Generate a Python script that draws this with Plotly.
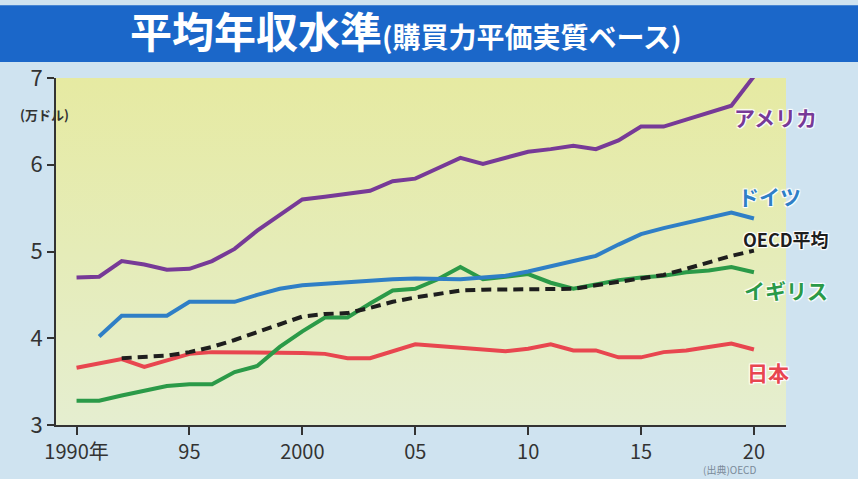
import plotly.graph_objects as go

# 年（1990〜2020）
years = list(range(1990, 2021))

# 平均年収（万ドル、購買力平価実質ベース）
usa = [4.70, 4.71, 4.89, 4.85, 4.79, 4.80, 4.89, 5.03, 5.24, 5.42,
       5.60, 5.63, 5.66, 5.70, 5.81, 5.84, 5.96, 6.08, 6.01, 6.08,
       6.15, 6.18, 6.22, 6.18, 6.28, 6.44, 6.44, 6.52, 6.60, 6.68, 7.02]
germany = [None, 4.02, 4.26, 4.26, 4.26, 4.42, 4.42, 4.42, 4.50, 4.57,
           4.61, 4.63, 4.64, 4.66, 4.68, 4.69, 4.68, 4.68, 4.70, 4.72,
           4.77, 4.83, 4.88, 4.95, 5.08, 5.20, 5.27, 5.33, 5.40, 5.45, 5.38]
oecd = [None, None, 3.77, 3.78, 3.80, 3.84, 3.90, 3.98, 4.07, 4.16,
        4.25, 4.28, 4.29, 4.35, 4.42, 4.47, 4.51, 4.55, 4.56, 4.56,
        4.56, 4.56, 4.57, 4.61, 4.65, 4.69, 4.73, 4.80, 4.88, 4.95, 5.01]
uk = [3.28, 3.28, 3.34, 3.40, 3.45, 3.47, 3.47, 3.61, 3.68, 3.90,
      4.08, 4.24, 4.24, 4.40, 4.55, 4.57, 4.68, 4.82, 4.68, 4.71,
      4.74, 4.64, 4.57, 4.62, 4.67, 4.70, 4.72, 4.76, 4.78, 4.82, 4.76]
japan = [3.66, 3.71, 3.76, 3.67, 3.74, 3.82, 3.84, 3.84, 3.84, 3.84,
         3.83, 3.82, 3.77, 3.77, 3.85, 3.93, 3.91, 3.89, 3.87, 3.85,
         3.88, 3.93, 3.86, 3.86, 3.78, 3.78, 3.84, 3.86, 3.90, 3.94, 3.87]

tick_years = [1990, 1995, 2000, 2005, 2010, 2015, 2020]
tick_text = ["1990年", "95", "2000", "05", "10", "15", "20"]

FONT = "Noto Sans CJK JP"
x_range = [1989.09, 2021.42]
y_range = [3, 7]

fig = go.Figure()

# プロット背景のグラデーション（上：黄緑 → 下：淡い緑）
fig.add_trace(go.Scatter(
    x=[x_range[0], x_range[1], x_range[1], x_range[0], x_range[0]],
    y=[y_range[0], y_range[0], y_range[1], y_range[1], y_range[0]],
    mode="lines", fill="toself", line=dict(width=0),
    fillgradient=dict(type="vertical",
                      colorscale=[[0, "#e5eed0"], [0.5, "#e5ecb8"], [1, "#e6eaa2"]]),
    hoverinfo="skip",
))

series = [
    ("日本", japan, "#e8464f", None),
    ("イギリス", uk, "#2b9a48", None),
    ("OECD平均", oecd, "#1e1e1e", "10px,6px"),
    ("ドイツ", germany, "#2f7fc6", None),
    ("アメリカ", usa, "#773a97", None),
]
for name, vals, color, dash in series:
    fig.add_trace(go.Scatter(
        x=years, y=vals, mode="lines", name=name,
        line=dict(color=color, width=4, dash=dash),
        connectgaps=False,
    ))

# 系列ラベル（線の右端）
halo = "1px 1px 1px #fff, -1px -1px 1px #fff, 1px -1px 1px #fff, -1px 1px 1px #fff"
labels = [
    ("アメリカ", 0.986, 0.888, "#773a97", 21),
    ("ドイツ", 0.978, 0.660, "#2f7fc6", 21),
    ("OECD平均", 1.0, 0.536, "#1e1e1e", 18),
    ("イギリス", 1.0, 0.389, "#2b9a48", 21),
    ("日本", 0.975, 0.153, "#e8464f", 21),
]
for text, lx, ly, color, size in labels:
    fig.add_annotation(
        text="<b>" + text + "</b>", x=lx, y=ly, xref="paper", yref="paper",
        showarrow=False, xanchor="center", yanchor="middle",
        font=dict(family=FONT, size=size, color=color, shadow=halo),
    )

# 単位
fig.add_annotation(
    text="<b>(万ドル)</b>", x=-0.052, y=0.928, xref="paper", yref="paper",
    showarrow=False, font=dict(family=FONT, size=13, color="#333"),
)
# 出典
fig.add_annotation(
    text="(出典)OECD", x=0.96, y=-0.152, xref="paper", yref="paper",
    showarrow=False, yanchor="bottom", borderpad=0,
    font=dict(family=FONT, size=10, color="#7a8a99"),
)

# タイトル帯
fig.add_shape(type="rect", xref="paper", yref="paper",
              x0=-0.1, x1=1.2, y0=1.046, y1=1.21,
              fillcolor="#1b67c9", line_width=0, layer="below")

fig.update_layout(
    width=858, height=479,
    margin=dict(l=56, r=72, t=78, b=54),
    paper_bgcolor="#cfe3f0",
    plot_bgcolor="#e6ecb0",
    showlegend=False,
    title=dict(
        text="<b>平均年収水準</b><b><span style='font-size:28px'>(購買力平価実質ベース)</span></b>",
        x=0.473, xref="container", xanchor="center",
        y=0.931, yref="container", yanchor="middle",
        font=dict(family=FONT, size=42, color="white"),
    ),
    xaxis=dict(
        range=x_range,
        tickvals=tick_years, ticktext=tick_text,
        showgrid=False, zeroline=False,
        showline=True, linecolor="#333", linewidth=2,
        ticks="outside", ticklen=8, tickwidth=1.5, tickcolor="#333",
        tickfont=dict(family=FONT, size=20, color="#333"),
    ),
    yaxis=dict(
        range=y_range, dtick=1,
        showgrid=True, gridcolor="rgba(255,255,255,0.4)", gridwidth=1,
        zeroline=False, layer="above traces",
        showline=True, linecolor="#333", linewidth=2,
        ticks="outside", ticklen=7, tickwidth=1.5, tickcolor="#333",
        tickfont=dict(family=FONT, size=22, color="#333"),
    ),
)

fig.write_html("out.html", config={"displayModeBar": False},
               post_script="document.body.style.margin='0';")
